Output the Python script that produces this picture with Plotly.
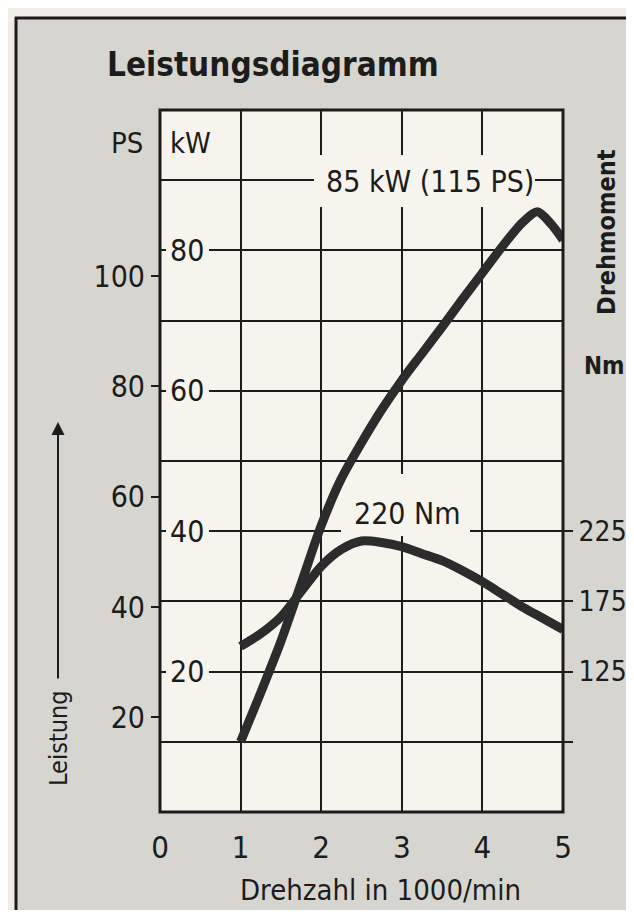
import plotly.graph_objects as go

# ---------------- data ----------------
rpm_power = [1.0, 1.25, 1.5, 1.75, 2.0, 2.25, 2.5, 2.75, 3.0, 3.25, 3.5, 3.75, 4.0, 4.25, 4.5, 4.68, 4.85, 5.0]
power_kw = [10, 17, 24.3, 32.5, 40.8, 47.5, 52.6, 57.3, 61.5, 65.3, 69.1, 73, 76.8, 80.6, 84, 85.5, 83.8, 81.5]

rpm_torque = [1.0, 1.25, 1.5, 1.75, 2.0, 2.25, 2.5, 2.75, 3.0, 3.25, 3.5, 3.75, 4.0, 4.25, 4.5, 4.75, 5.0]
torque_nm = [143, 152, 164, 182, 200, 212, 218, 217, 214, 209, 204, 197, 189, 180, 171, 163, 155]

x_ticks = [0, 1, 2, 3, 4, 5]
kw_grid = [10, 20, 30, 40, 50, 60, 70, 80, 90]
kw_labels = [20, 40, 60, 80]
ps_ticks = [20, 40, 60, 80, 100]
nm_ticks = [75, 125, 175, 225]
nm_ticktext = ["", "125", "175", "225"]

# ---------------- style ----------------
# The page places the figure 8 px from the window's top-left corner.
OFF = 8
WIN_W, WIN_H = 634, 918
FIG_W, FIG_H = WIN_W - 2 * OFF, WIN_H - 2 * OFF
# plot area in window pixels
L, R, T, B = 160, 563, 110, 812
X_MAX, KW_MAX = 5, 100
PAPER = "#d7d5cf"
PLOT = "#f6f4ec"
CREAM = "#efede6"
INK = "#1c1c1c"
CURVE = "#2c2c2c"
FONT = "Liberation Sans Narrow, DejaVu Sans Condensed, Arial Narrow, sans-serif"


def px(x):
    return (x - L) / (R - L)


def py(y):
    return (B - y) / (B - T)


fig = go.Figure()
fig.add_trace(go.Scatter(x=rpm_power, y=power_kw, mode="lines",
                         line=dict(color=CURVE, width=9, shape="spline", smoothing=0.8),
                         yaxis="y", hoverinfo="skip", showlegend=False))
fig.add_trace(go.Scatter(x=rpm_torque, y=torque_nm, mode="lines",
                         line=dict(color=CURVE, width=9, shape="spline", smoothing=0.8),
                         yaxis="y3", hoverinfo="skip", showlegend=False))
fig.add_trace(go.Scatter(x=[None], y=[None], yaxis="y2", showlegend=False))

fig.update_layout(
    width=FIG_W, height=FIG_H,
    margin=dict(l=L - OFF, r=WIN_W - OFF - R, t=T - OFF, b=WIN_H - OFF - B, pad=0),
    paper_bgcolor=PAPER, plot_bgcolor=PLOT,
    font=dict(family=FONT, color=INK, size=30),
    xaxis=dict(range=[0, X_MAX], tickvals=x_ticks, showgrid=True, gridcolor=INK, gridwidth=2,
               zeroline=False, showline=False, ticks="", tickfont=dict(size=31),
               ticklabelstandoff=14, automargin=False),
    yaxis=dict(range=[0, KW_MAX], tickvals=kw_grid, showticklabels=False, showgrid=True,
               gridcolor=INK, gridwidth=2, zeroline=False, showline=False, ticks="",
               automargin=False),
    yaxis2=dict(range=[2.85, 130.1], overlaying="y", side="left", anchor="x",
                tickvals=ps_ticks, ticks="outside", ticklen=8, tickwidth=2, tickcolor=INK,
                showgrid=False, zeroline=False, showline=False, tickfont=dict(size=30),
                ticklabelstandoff=0, automargin=False),
    yaxis3=dict(range=[25, 525], overlaying="y", side="right", anchor="x",
                tickvals=nm_ticks, ticktext=nm_ticktext, ticks="outside", ticklen=9,
                tickwidth=2, tickcolor=INK, showgrid=False, zeroline=False, showline=False,
                tickfont=dict(size=28), ticklabelstandoff=0, automargin=False),
)


def mask(x0, x1, y0, y1):
    # window-pixel box -> data coords so the mask sits between gridlines and curves
    return dict(type="rect", xref="x", yref="y",
                x0=(x0 - L) / (R - L) * X_MAX, x1=(x1 - L) / (R - L) * X_MAX,
                y0=(B - y1) / (B - T) * KW_MAX, y1=(B - y0) / (B - T) * KW_MAX,
                fillcolor=PLOT, line=dict(width=0), layer="between")


shapes = [
    dict(type="rect", xref="paper", yref="paper", x0=0, y0=0, x1=1, y1=1,
         line=dict(color=INK, width=3), layer="above"),
    dict(type="rect", xref="paper", yref="paper", x0=px(-2), x1=px(15), y0=py(WIN_H + 2), y1=py(-2),
         fillcolor=CREAM, line=dict(width=0), layer="below"),
    dict(type="rect", xref="paper", yref="paper", x0=px(-2), x1=px(WIN_W + 2), y0=py(18), y1=py(-2),
         fillcolor=CREAM, line=dict(width=0), layer="below"),
    dict(type="line", xref="paper", yref="paper", x0=px(16), x1=px(16), y0=py(17), y1=py(WIN_H + 2),
         line=dict(color=INK, width=3)),
    dict(type="line", xref="paper", yref="paper", x0=px(15), x1=px(WIN_W + 2), y0=py(18), y1=py(18),
         line=dict(color=INK, width=3)),
    mask(314, 535, 155, 207),
    mask(341, 470, 474, 536),
]
for v in kw_labels:
    yc = B - v * (B - T) / KW_MAX
    shapes.append(mask(166, 209, yc - 15, yc + 15))
fig.update_layout(shapes=shapes)


def label(xw, yw, text, size, **kw):
    d = dict(x=px(xw), y=py(yw), xref="paper", yref="paper", text=text, showarrow=False,
             xanchor="center", yanchor="middle", font=dict(size=size))
    d.update(kw)
    return d


ann = []
for v in kw_labels:
    ann.append(dict(x=px(187), y=v, xref="paper", yref="y", text=str(v), showarrow=False,
                    xanchor="center", yanchor="middle", font=dict(size=30)))
ann += [
    label(105, 64, "<b>Leistungsdiagramm</b>", 33, xanchor="left"),
    label(127, 143, "PS", 29),
    label(190, 143, "kW", 29),
    label(430, 181, "85 kW (115 PS)", 30),
    label(407, 513, "220 Nm", 30),
    label(606, 232, "<b>Drehmoment</b>", 25, textangle=-90),
    label(604, 366, "<b>Nm</b>", 24),
    label(58, 738, "Leistung", 25, textangle=-90),
    dict(x=px(58), y=py(422), xref="paper", yref="paper", text="", showarrow=True,
         ax=0, ay=258, arrowhead=2, arrowsize=1.3, arrowwidth=2, arrowcolor=INK, standoff=0),
    label(380, 890, "Drehzahl in 1000/min", 29),
]
fig.update_layout(annotations=ann)

fig.write_html("out.html")
